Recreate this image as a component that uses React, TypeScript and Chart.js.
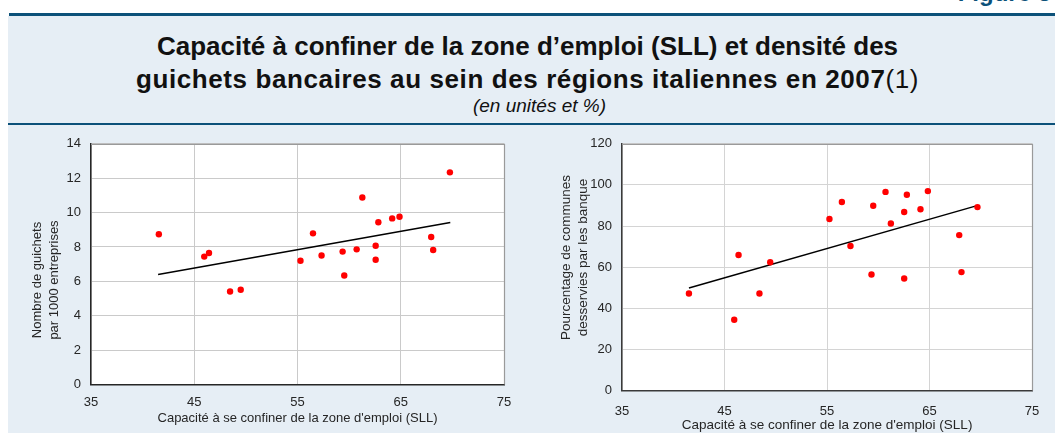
import React, { useEffect, useRef } from 'react';
import { Chart, registerables } from 'chart.js';

Chart.register(...registerables);

// ---- Data ----
const capacityLeft = [41.57, 45.97, 46.43, 48.47, 49.5, 55.29, 56.5, 57.33, 59.37, 59.53, 60.73, 61.28, 62.57, 62.57, 62.83, 64.17, 64.88, 67.95, 68.14, 69.76];
const guichets = [8.74, 7.44, 7.65, 5.41, 5.51, 7.2, 8.79, 7.5, 7.73, 6.34, 7.86, 10.88, 8.07, 7.26, 9.44, 9.66, 9.76, 8.58, 7.82, 12.34];
const capacityRight = [41.53, 45.95, 46.37, 48.41, 49.46, 55.24, 56.45, 57.29, 59.34, 59.51, 60.71, 61.23, 62.53, 62.53, 62.79, 64.12, 64.84, 67.9, 68.12, 69.68];
const communes = [47.2, 34.4, 65.9, 47.2, 62.4, 83.4, 91.7, 70.3, 56.4, 89.9, 96.6, 81.2, 54.5, 86.8, 95.2, 88.2, 97.0, 75.6, 57.6, 89.2];

const trendXLeft = [41.5, 69.8];
const trendGuichets = [6.4, 9.42];
const trendXRight = [41.53, 69.56];
const trendCommunes = [49.9, 89.8];

const xRange = [35, 75];
const xStep = 10;
const yRangeLeft = [0, 14];
const yStepLeft = 2;
const yRangeRight = [0, 120];
const yStepRight = 20;

const xTitle = "Capacité à se confiner de la zone d'emploi (SLL)";
const yTitleLeft = ['Nombre de guichets', 'par 1000 entreprises'];
const yTitleRight = ['Pourcentage de communes', 'desservies par les banque'];

const FONT = "'Liberation Sans', Arial, sans-serif";
const DARK_BLUE = '#0C5179';
const PANEL = '#E6EEF5';

Chart.defaults.font.family = FONT;

type ChartSpec = {
  xs: number[];
  ys: number[];
  tx: number[];
  ty: number[];
  yMin: number;
  yMax: number;
  yStep: number;
  yTitle: string[];
  yAxisWidth: number;
  xAxisHeight: number;
  padRight: number;
  padTop: number;
  xTickPad: number;
  yTickPad: number;
  gridColor: string;
  borderColor: string;
  titleFont: number;
  yTitleX: [number, number];
  yTitleY: number;
  xTitleY: number;
};

function makeChart(canvas: HTMLCanvasElement, s: ChartSpec) {
  const points = s.xs.map((x, i) => ({ x, y: s.ys[i] }));
  const trend = s.tx.map((x, i) => ({ x, y: s.ty[i] }));

  const decor = {
    id: 'decor',
    beforeDraw(chart: any) {
      const { ctx, chartArea: a } = chart;
      ctx.save();
      ctx.fillStyle = '#FFFFFF';
      ctx.fillRect(a.left, a.top, a.right - a.left, a.bottom - a.top);
      ctx.restore();
    },
    beforeDatasetsDraw(chart: any) {
      const { ctx, chartArea: a } = chart;
      ctx.save();
      ctx.strokeStyle = '#9A9A9A';
      ctx.lineWidth = 1.2;
      ctx.beginPath();
      ctx.moveTo(a.left, a.top + 0.5);
      ctx.lineTo(a.right + 0.5, a.top + 0.5);
      ctx.lineTo(a.right + 0.5, a.bottom);
      ctx.stroke();
      ctx.restore();
    },
    afterDraw(chart: any) {
      const { ctx, chartArea: a } = chart;
      ctx.save();
      ctx.fillStyle = '#262626';
      ctx.font = `${s.titleFont}px ${FONT}`;
      ctx.textAlign = 'center';
      ctx.textBaseline = 'middle';
      ctx.fillText(xTitle, (a.left + a.right) / 2, s.xTitleY);
      s.yTitle.forEach((line, i) => {
        ctx.save();
        ctx.translate(s.yTitleX[i], s.yTitleY);
        ctx.rotate(-Math.PI / 2);
        ctx.fillText(line, 0, 0);
        ctx.restore();
      });
      ctx.restore();
    },
  };

  return new Chart(canvas, {
    type: 'scatter',
    data: {
      datasets: [
        {
          data: points,
          backgroundColor: '#FF0000',
          borderWidth: 0,
          pointRadius: 3.2,
          pointHoverRadius: 3.2,
        } as any,
        {
          type: 'line',
          data: trend,
          borderColor: '#000000',
          borderWidth: 1.5,
          pointRadius: 0,
          showLine: true,
          fill: false,
        } as any,
      ],
    },
    options: {
      animation: false,
      responsive: false,
      maintainAspectRatio: false,
      events: [],
      layout: { padding: { left: 0, right: s.padRight, top: s.padTop, bottom: 0 } },
      plugins: { legend: { display: false }, tooltip: { enabled: false } },
      scales: {
        x: {
          type: 'linear',
          min: xRange[0],
          max: xRange[1],
          ticks: { stepSize: xStep, color: '#262626', font: { size: 13 }, padding: s.xTickPad },
          grid: { color: s.gridColor, drawTicks: false, lineWidth: 1 },
          border: { color: s.borderColor, width: 1.5 },
          afterFit: (sc: any) => { sc.height = s.xAxisHeight; },
        },
        y: {
          type: 'linear',
          min: s.yMin,
          max: s.yMax,
          ticks: { stepSize: s.yStep, color: '#262626', font: { size: 13 }, padding: s.yTickPad },
          grid: { color: s.gridColor, drawTicks: false, lineWidth: 1 },
          border: { color: s.borderColor, width: 1.5 },
          afterFit: (sc: any) => { sc.width = s.yAxisWidth; },
        },
      },
    } as any,
    plugins: [decor],
  });
}

function ScatterCanvas({ spec, left, width }: { spec: ChartSpec; left: number; width: number }) {
  const ref = useRef<HTMLCanvasElement | null>(null);
  useEffect(() => {
    if (!ref.current) return;
    const c = makeChart(ref.current, spec);
    return () => c.destroy();
  }, []);
  return (
    <canvas
      ref={ref}
      width={width}
      height={307}
      style={{ position: 'absolute', left, top: 126, width, height: 307 }}
    />
  );
}

const leftSpec: ChartSpec = {
  xs: capacityLeft,
  ys: guichets,
  tx: trendXLeft,
  ty: trendGuichets,
  yMin: yRangeLeft[0],
  yMax: yRangeLeft[1],
  yStep: yStepLeft,
  yTitle: yTitleLeft,
  yAxisWidth: 91,
  xAxisHeight: 48.5,
  padRight: 23,
  padTop: 13,
  xTickPad: 10.5,
  yTickPad: 10,
  gridColor: '#CACACA',
  borderColor: '#262626',
  titleFont: 13,
  yTitleX: [37.5, 54.5],
  yTitleY: 154,
  xTitleY: 292,
};

const rightSpec: ChartSpec = {
  xs: capacityRight,
  ys: communes,
  tx: trendXRight,
  ty: trendCommunes,
  yMin: yRangeRight[0],
  yMax: yRangeRight[1],
  yStep: yStepRight,
  yTitle: yTitleRight,
  yAxisWidth: 95,
  xAxisHeight: 42.5,
  padRight: 23,
  padTop: 14,
  xTickPad: 13,
  yTickPad: 10,
  gridColor: '#D4D4D4',
  borderColor: '#3A3A3A',
  titleFont: 13.5,
  yTitleX: [39, 56],
  yTitleY: 131.5,
  xTitleY: 299.7,
};

const lineStyle: React.CSSProperties = {
  position: 'absolute',
  left: 0,
  width: 1055,
  textAlign: 'center',
  fontSize: 26,
  lineHeight: '26px',
  fontWeight: 'bold',
  color: '#111111',
  whiteSpace: 'nowrap',
};

export default function App() {
  return (
    <div
      style={{
        position: 'fixed',
        left: 0,
        top: 0,
        width: 1055,
        height: 433,
        background: '#FFFFFF',
        overflow: 'hidden',
        fontFamily: FONT,
      }}
    >
      <div
        style={{
          position: 'absolute',
          right: 4,
          top: -19,
          fontSize: 24,
          lineHeight: '24px',
          fontWeight: 'bold',
          color: DARK_BLUE,
          whiteSpace: 'nowrap',
        }}
      >
        Figure 3
      </div>
      <div style={{ position: 'absolute', left: 8, top: 16, right: 0, bottom: 0, background: PANEL }} />
      <div style={{ position: 'absolute', left: 9, top: 13, right: 0, height: 3, background: DARK_BLUE }} />
      <div style={{ position: 'absolute', left: 8, top: 123, right: 0, height: 2, background: DARK_BLUE }} />
      <div style={{ ...lineStyle, top: 33 }}>
        Capacité à confiner de la zone d’emploi (SLL) et densité des
      </div>
      <div style={{ ...lineStyle, top: 66, letterSpacing: 0.6 }}>
        guichets bancaires au sein des régions italiennes en 2007
        <span style={{ fontWeight: 'normal' }}>(1)</span>
      </div>
      <div
        style={{
          position: 'absolute',
          left: 12,
          width: 1055,
          top: 96,
          textAlign: 'center',
          fontSize: 19,
          lineHeight: '19px',
          fontStyle: 'italic',
          color: '#111111',
          whiteSpace: 'nowrap',
        }}
      >
        (en unités et %)
      </div>
      <ScatterCanvas spec={leftSpec} left={0} width={527} />
      <ScatterCanvas spec={rightSpec} left={527} width={528} />
    </div>
  );
}
